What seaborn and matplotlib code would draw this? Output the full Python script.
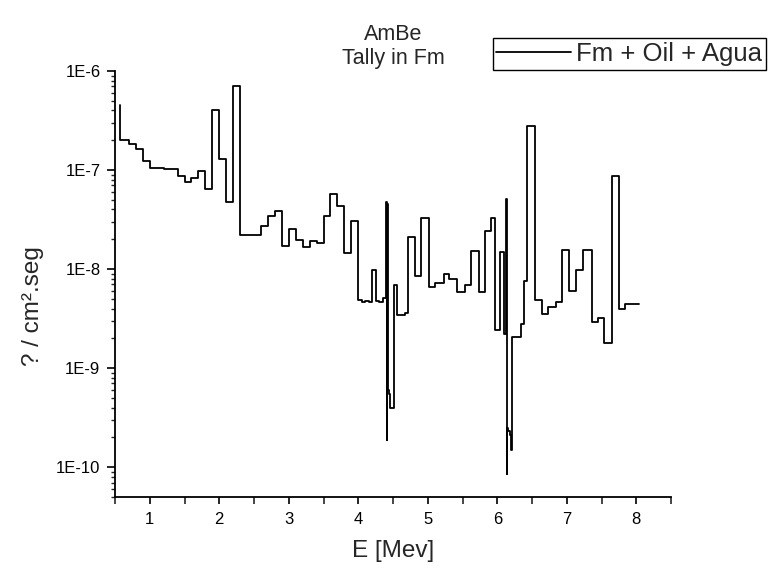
import matplotlib
matplotlib.use("Agg")
import matplotlib.pyplot as plt
import matplotlib.ticker as mticker
import seaborn as sns
import numpy as np

# ---- data (upper bin edge energy in MeV, flux) ----
energy = [0.57, 0.7, 0.8, 0.9, 1.0, 1.1, 1.2, 1.3, 1.4, 1.5, 1.6, 1.7, 1.8, 1.9,
          2.0, 2.1, 2.2, 2.3, 2.4, 2.5, 2.6, 2.7, 2.8, 2.9, 3.0, 3.1, 3.2, 3.3,
          3.4, 3.5, 3.6, 3.7, 3.8, 3.9, 4.0, 4.05, 4.1, 4.15, 4.2, 4.25, 4.3,
          4.35, 4.40, 4.41, 4.415, 4.43, 4.44, 4.45, 4.46, 4.52, 4.56, 4.67,
          4.72, 4.81, 4.91, 5.02, 5.1, 5.23, 5.31, 5.42, 5.53, 5.62, 5.74, 5.83,
          5.91, 5.965, 6.04, 6.09, 6.13, 6.135, 6.14, 6.145, 6.16, 6.18, 6.20,
          6.215, 6.34, 6.39, 6.43, 6.54, 6.64, 6.735, 6.84, 6.935, 7.03, 7.14,
          7.24, 7.36, 7.445, 7.535, 7.645, 7.75, 7.84, 8.045]
flux = [4.5e-7, 2.0e-7, 1.85e-7, 1.65e-7, 1.24e-7, 1.06e-7, 1.06e-7, 1.02e-7,
        1.02e-7, 8.7e-8, 7.5e-8, 8.4e-8, 9.8e-8, 6.5e-8, 4.0e-7, 1.3e-7, 4.75e-8,
        7.05e-7, 2.2e-8, 2.2e-8, 2.2e-8, 2.74e-8, 3.43e-8, 3.85e-8, 1.73e-8,
        2.53e-8, 1.95e-8, 1.69e-8, 1.9e-8, 1.82e-8, 3.43e-8, 5.77e-8, 4.3e-8,
        1.46e-8, 3.05e-8, 4.9e-9, 4.6e-9, 4.8e-9, 4.6e-9, 9.7e-9, 4.8e-9, 4.6e-9,
        5.1e-9, 4.8e-8, 1.9e-10, 4.5e-8, 6.0e-10, 5.5e-10, 5.0e-10, 4.0e-10,
        6.9e-9, 3.4e-9, 3.6e-9, 2.1e-8, 8.6e-9, 3.3e-8, 6.65e-9, 7.2e-9, 8.9e-9,
        8.0e-9, 5.9e-9, 6.9e-9, 1.51e-8, 5.9e-9, 2.4e-8, 3.3e-8, 2.45e-9, 1.5e-8,
        2.2e-9, 5.1e-8, 8.5e-11, 4.5e-8, 2.5e-10, 2.3e-10, 2.1e-10, 1.5e-10,
        2.07e-9, 2.8e-9, 7.5e-9, 2.77e-7, 4.9e-9, 3.5e-9, 4.1e-9, 4.6e-9, 1.56e-8,
        6.0e-9, 9.7e-9, 1.56e-8, 2.94e-9, 3.2e-9, 1.79e-9, 8.7e-8, 3.95e-9, 4.4e-9]

series_label = "Fm + Oil + Agua"
title_lines = ["AmBe", "Tally in Fm"]
x_ticks = [1, 2, 3, 4, 5, 6, 7, 8]
x_tick_labels = ["1", "2", "3", "4", "5", "6", "7", "8"]
y_ticks = [1e-10, 1e-9, 1e-8, 1e-7, 1e-6]
y_tick_labels = ["1E-10", "1E-9", "1E-8", "1E-7", "1E-6"]

sns.set_style("ticks")
plt.rcParams["font.family"] = ["Liberation Sans", "DejaVu Sans"]

W, H = 776, 573
fig = plt.figure(figsize=(W / 100, H / 100), dpi=100)
ax_l, ax_r, ax_t, ax_b = 115, 671, 71, 497
ax = fig.add_axes([ax_l / W, 1 - ax_b / H, (ax_r - ax_l) / W, (ax_b - ax_t) / H])
ax.set_yscale("log")

sns.lineplot(x=energy, y=flux, drawstyle="steps-pre", sort=False, estimator=None,
             color="black", linewidth=1.3, ax=ax, label=series_label, legend=False)

ax.set_xlim(0.5, 8.5)
ax.set_ylim(5e-11, 1e-6)

ax.xaxis.set_major_locator(mticker.FixedLocator(x_ticks))
ax.xaxis.set_major_formatter(mticker.FixedFormatter(x_tick_labels))
ax.xaxis.set_minor_locator(mticker.MultipleLocator(0.5))
ax.yaxis.set_major_locator(mticker.FixedLocator(y_ticks))
ax.yaxis.set_major_formatter(mticker.FixedFormatter(y_tick_labels))
ax.yaxis.set_minor_locator(mticker.LogLocator(base=10, subs=np.arange(2, 10)))
ax.yaxis.set_minor_formatter(mticker.NullFormatter())

ax.tick_params(axis="both", which="major", direction="out", width=1.2,
               labelsize=12, colors="black")
ax.tick_params(axis="x", which="major", length=5, pad=6)
ax.tick_params(axis="x", which="minor", direction="out", length=5, width=1.2)
ax.tick_params(axis="y", which="major", length=6, pad=4.5)
ax.tick_params(axis="y", which="minor", direction="out", length=3, width=1.0)

for s in ["top", "right"]:
    ax.spines[s].set_visible(False)
for s in ["left", "bottom"]:
    ax.spines[s].set_linewidth(1.3)
    ax.spines[s].set_color("black")

ax.set_xlabel("E [Mev]", fontsize=17.5)
ax.xaxis.set_label_coords(0.5, (ax_b - 540) / (ax_b - ax_t))
ax.set_ylabel("? / cm².seg", fontsize=17.5)
ax.yaxis.set_label_coords((44 - ax_l) / (ax_r - ax_l), (ax_b - 306) / (ax_b - ax_t))

ax.set_title("\n".join(title_lines), fontsize=15.5, linespacing=1.2, pad=5)

handles, labels = ax.get_legend_handles_labels()
leg = fig.legend(handles, labels, loc="upper right",
                 bbox_to_anchor=(766 / W, 1 - 38 / H),
                 fontsize=18.5, frameon=True, fancybox=False, framealpha=1,
                 edgecolor="black", handlelength=2.9, handletextpad=0.2,
                 borderpad=0.15, borderaxespad=0)
leg.get_frame().set_linewidth(1.0)

fig.savefig("out.png", dpi=100, facecolor="white")
